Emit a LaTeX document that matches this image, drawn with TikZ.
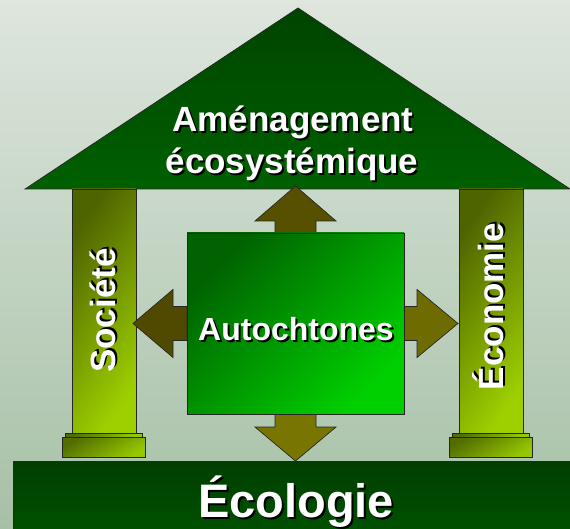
\documentclass[tikz,border=0pt]{standalone}
\usepackage{fontspec}
\newfontfamily\hfont{Liberation Sans}
\definecolor{bgtop}{RGB}{222,230,222}
\definecolor{bgbot}{RGB}{166,192,166}
\definecolor{rooftop}{RGB}{0,68,0}
\definecolor{roofbot}{RGB}{0,96,0}
\definecolor{ecotop}{RGB}{0,62,0}
\definecolor{ecobot}{RGB}{0,82,0}
\definecolor{pilUL}{RGB}{78,100,0}
\definecolor{pilLR}{RGB}{158,208,0}
\definecolor{basetop}{RGB}{82,108,0}
\definecolor{basebot}{RGB}{150,200,0}
\definecolor{boxUL}{RGB}{0,98,0}
\definecolor{boxLR}{RGB}{0,208,0}
\definecolor{arrUp}{RGB}{86,80,0}
\definecolor{arrLeft}{RGB}{80,74,0}
\definecolor{arrRight}{RGB}{110,108,0}
\definecolor{arrDown}{RGB}{120,118,0}
\newcommand{\shtxt}[1]{\rlap{\kern2pt\raisebox{-2pt}{\textcolor{black}{#1}}}#1}
\tikzset{
  outl/.style={draw=black!85, line width=0.7pt},
  blk/.style={outl, inner sep=0pt, outer sep=0pt},
  roofsh/.style={outl, top color=rooftop, bottom color=roofbot},
  ecosh/.style={blk, top color=ecotop, bottom color=ecobot},
  pillarsh/.style={blk, top color=pilUL, bottom color=pilLR, shading angle=55},
  basesh/.style={blk, top color=basetop, bottom color=basebot, shading angle=30},
  boxsh/.style={blk, top color=boxUL, bottom color=boxLR, shading angle=45},
  arrowsh/.style={outl, line join=miter},
  lbl/.style={text=white, inner sep=0pt, outer sep=0pt},
  fbig/.style={font=\hfont\bfseries\fontsize{35}{42}\selectfont},
  fmid/.style={font=\hfont\bfseries\fontsize{32}{38}\selectfont},
  fhuge/.style={font=\hfont\bfseries\fontsize{47}{56}\selectfont},
}
\begin{document}
\begin{tikzpicture}[x=1pt,y=-1pt]
\useasboundingbox (0,0) rectangle (570,529);
\shade[top color=bgtop, bottom color=bgbot] (0,0) rectangle (570,529);

% foundation
\node[ecosh, anchor=north west, minimum width=565, minimum height=75] (eco) at (13,461) {};

% roof
\coordinate (apex) at (298,8);
\coordinate (roofL) at (25,189);
\coordinate (roofR) at (570,189);
\shade[roofsh] (apex) -- (roofL) -- (roofR) -- cycle;

% pillars
\node[pillarsh, anchor=north west, minimum width=64, minimum height=244] (socp) at (72,189) {};
\node[pillarsh, anchor=north west, minimum width=64, minimum height=244] (ecop) at (459,189) {};
\node[basesh, anchor=north, minimum width=77, minimum height=4] (socplate) at (socp.south) {};
\node[basesh, anchor=north, minimum width=83, minimum height=20] (socbase) at (socplate.south) {};
\node[basesh, anchor=north, minimum width=77, minimum height=4] (ecoplate) at (ecop.south) {};
\node[basesh, anchor=north, minimum width=83, minimum height=20] (ecobase) at (ecoplate.south) {};

% central box position
\coordinate (c) at (295.5,323.5);

% arrows (drawn before the box)
\path (c) node[minimum width=217, minimum height=181, inner sep=0pt, outer sep=0pt] (boxref) {};
\fill[arrowsh, fill=arrUp]
  ([shift={(-20.5,0)}]boxref.north) -- ++(0,-12) -- ++(-20,0)
  -- ([shift={(0,-47)}]boxref.north)
  -- ([shift={(40.5,-12)}]boxref.north) -- ++(-20,0) -- ++(0,12) -- cycle;
\fill[arrowsh, fill=arrDown]
  ([shift={(-20.5,0)}]boxref.south) -- ++(0,13) -- ++(-20,0)
  -- ([shift={(0,47)}]boxref.south)
  -- ([shift={(40.5,13)}]boxref.south) -- ++(-20,0) -- ++(0,-13) -- cycle;
\fill[arrowsh, fill=arrLeft]
  ([shift={(0,-17)}]boxref.west) -- ++(-14,0) -- ++(0,-17)
  -- ([shift={(-54,0)}]boxref.west)
  -- ([shift={(-14,34)}]boxref.west) -- ++(0,-17) -- ++(14,0) -- cycle;
\fill[arrowsh, fill=arrRight]
  ([shift={(0,-17)}]boxref.east) -- ++(13,0) -- ++(0,-17)
  -- ([shift={(54,0)}]boxref.east)
  -- ([shift={(13,34)}]boxref.east) -- ++(0,-17) -- ++(-13,0) -- cycle;

\node[boxsh, minimum width=217, minimum height=181] (auto) at (c) {};

% labels
\node[lbl, fbig, anchor=base] (t1) at (293,132) {\shtxt{Aménagement}};
\node[lbl, fbig, anchor=base] (t2) at (292,174) {\shtxt{écosystémique}};
\node[lbl, fbig, anchor=base, rotate=90] (tsoc) at (115,310.5) {\shtxt{Société}};
\node[lbl, fbig, anchor=base, rotate=90] (teco) at (503,306.5) {\shtxt{Économie}};
\node[lbl, fmid, anchor=base] (tauto) at (296,340) {\shtxt{Autochtones}};
\node[lbl, fhuge, anchor=base] (tecol) at (296,517) {\shtxt{Écologie}};
\end{tikzpicture}
\end{document}
